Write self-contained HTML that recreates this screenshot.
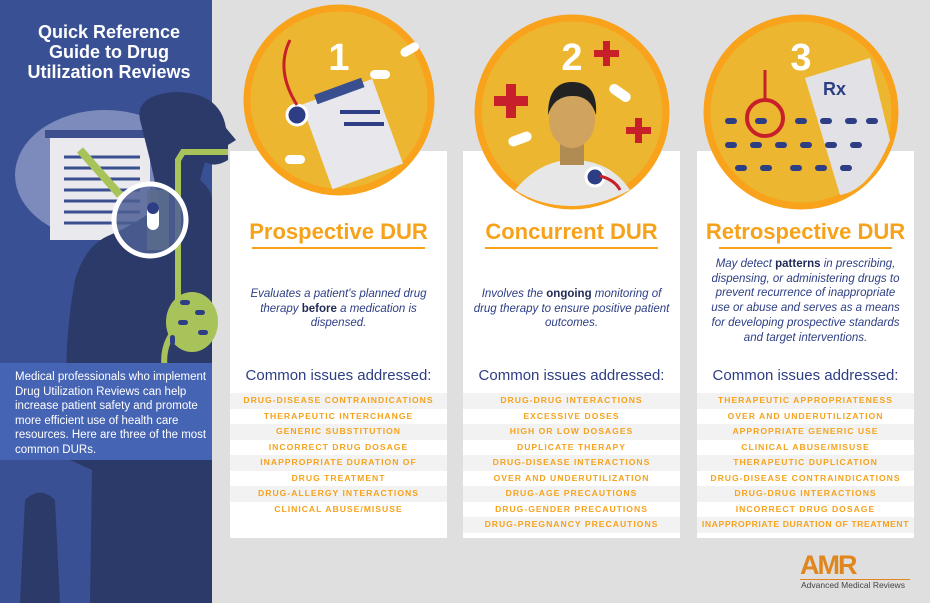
<!DOCTYPE html>
<html><head><meta charset="utf-8"><style>
*{margin:0;padding:0;box-sizing:border-box}
body{width:930px;height:603px;background:#dfdfdf;position:relative;overflow:hidden;font-family:"Liberation Sans",sans-serif}
.a{position:absolute}
.bg{position:absolute;top:151px;width:217px;height:387px;background:#fff}
.card{position:absolute;top:151px;width:217px;height:387px;z-index:3}
.ttl{position:absolute;top:68px;left:0;width:100%;text-align:center;color:#f6a21b;font-weight:bold;font-size:22px}
.ul{position:absolute;top:96px;left:22px;right:22px;height:2px;background:#f6a21b}
.desc{position:absolute;left:8px;right:8px;text-align:center;color:#2d3e84;font-style:italic;font-size:11.5px;line-height:14.7px}
.desc b{font-style:normal;color:#1f2a55}
.ci{position:absolute;top:216px;width:100%;text-align:center;color:#2d3e84;font-size:15px}
.list{position:absolute;top:242px;left:0;width:100%}
.list div{height:15.5px;line-height:15.5px;text-align:center;color:#f6a21b;font-size:8.6px;font-weight:bold;letter-spacing:1px;white-space:nowrap}
.list div:nth-child(odd){background:#f2f2f2}
</style></head><body>
<div class="bg" style="left:230px"></div>
<div class="bg" style="left:463px"></div>
<div class="bg" style="left:697px"></div>
<svg class="a" style="left:0;top:0;z-index:2" width="930" height="603">
<rect x="0" y="0" width="212" height="603" fill="#3a5094"/>
<ellipse cx="105" cy="175" rx="90" ry="65" fill="#7d8bbc"/>
<rect x="50" y="135" width="100" height="105" fill="#e9e9ee"/>
<rect x="45" y="130" width="110" height="8" fill="#3d4f8e"/>
<g stroke="#3a4f8f" stroke-width="3"><line x1="64" y1="157" x2="140" y2="157"/><line x1="64" y1="168" x2="140" y2="168"/><line x1="64" y1="179" x2="140" y2="179"/><line x1="64" y1="190" x2="140" y2="190"/><line x1="64" y1="201" x2="140" y2="201"/><line x1="64" y1="212" x2="140" y2="212"/><line x1="64" y1="223" x2="140" y2="223"/></g>
<path d="M140 120 Q135 95 175 92 Q220 92 226 128 L236 140 L228 145 L228 160 Q215 168 205 162 L200 180 Q212 190 212 200 L212 603 L90 603 L92 470 L70 460 Q60 360 75 280 Q85 245 110 235 Q140 222 160 205 L150 160 Z" fill="#2c3a6a"/>
<path d="M20 603 L25 500 Q40 485 55 500 L60 603 Z" fill="#2c3a6a"/>
<path d="M228 152 L183 152 L178 160 L178 300 Q175 310 185 320 Q160 340 165 370" stroke="#a9c35b" stroke-width="6" fill="none"/>
<ellipse cx="192" cy="322" rx="26" ry="30" fill="#a9c35b"/>
<g fill="#2d3e84"><rect x="180" y="300" width="10" height="5" rx="2.5"/><rect x="195" y="310" width="10" height="5" rx="2.5"/><rect x="178" y="320" width="10" height="5" rx="2.5"/><rect x="198" y="330" width="10" height="5" rx="2.5"/><rect x="170" y="335" width="5" height="10" rx="2.5"/></g>
<rect x="147" y="190" width="22" height="60" fill="#a9c35b" opacity=".8"/>
<line x1="80" y1="150" x2="120" y2="195" stroke="#a9c35b" stroke-width="8"/>
<circle cx="150" cy="220" r="36" fill="#4d5f94" fill-opacity=".85" stroke="#fff" stroke-width="5"/>
<rect x="147" y="202" width="12" height="28" rx="6" fill="#fff"/>
<rect x="147" y="202" width="12" height="12" rx="6" fill="#2d3e84"/>
<rect x="0" y="363" width="212" height="97" fill="#4664b4"/>
<circle cx="339" cy="100" r="92" fill="#edb630" stroke="#f9a21b" stroke-width="7"/>
<rect x="315" y="90" width="75" height="90" fill="#e7e7ec" transform="rotate(-20 350 135)"/>
<rect x="330" y="85" width="50" height="10" fill="#3a4f8f" transform="rotate(-20 350 135)"/>
<g fill="#2d3e84"><rect x="340" y="110" width="40" height="4"/><rect x="344" y="122" width="40" height="4"/></g>
<circle cx="297" cy="115" r="10" fill="#2d3e84" stroke="#fff" stroke-width="3"/>
<path d="M297 105 Q275 70 290 40" stroke="#c8202a" stroke-width="3" fill="none"/>
<g fill="#fff"><rect x="370" y="70" width="20" height="9" rx="4.5"/><rect x="400" y="45" width="20" height="9" rx="4.5" transform="rotate(-30 410 50)"/><rect x="285" y="155" width="20" height="9" rx="4.5"/></g>
<text x="339" y="70" font-size="38" font-weight="bold" fill="#fff" text-anchor="middle" font-family="Liberation Sans">1</text>
<circle cx="572" cy="112" r="94" fill="#edb630" stroke="#f9a21b" stroke-width="7"/>
<path d="M515 190 Q540 160 572 160 Q610 160 630 190 Q600 206 572 206 Q540 206 515 190Z" fill="#e7e7e7"/>
<rect x="560" y="140" width="24" height="25" fill="#b08b52"/>
<ellipse cx="572" cy="120" rx="23" ry="28" fill="#d0a35f"/>
<path d="M548 115 Q548 82 572 82 Q598 82 596 115 Q590 95 572 96 Q554 96 548 115Z" fill="#222"/>
<path d="M494 96h12v-12h10v12h12v10h-12v12h-10v-12h-12z" fill="#c8202a"/>
<path d="M594 50h9v-9h7v9h9v7h-9v9h-7v-9h-9z" fill="#c8202a"/>
<path d="M626 127h9v-9h7v9h9v7h-9v9h-7v-9h-9z" fill="#c8202a"/>
<g fill="#fff"><rect x="508" y="134" width="24" height="10" rx="5" transform="rotate(-20 520 139)"/><rect x="608" y="88" width="24" height="10" rx="5" transform="rotate(35 620 93)"/></g>
<circle cx="595" cy="177" r="9" fill="#2d3e84" stroke="#fff" stroke-width="3"/>
<path d="M600 176 Q615 180 620 190" stroke="#c8202a" stroke-width="3" fill="none"/>
<text x="572" y="70" font-size="38" font-weight="bold" fill="#fff" text-anchor="middle" font-family="Liberation Sans">2</text>
<circle cx="801" cy="112" r="94" fill="#edb630" stroke="#f9a21b" stroke-width="7"/>
<path d="M805 78 L870 58 L890 140 Q870 190 840 195 Z" fill="#e2e2e6"/>
<text x="823" y="95" font-size="18" font-weight="bold" fill="#2d3e84" font-family="Liberation Sans">Rx</text>
<g fill="#2d3e84"><rect x="725" y="118" width="12" height="6" rx="3"/><rect x="755" y="118" width="12" height="6" rx="3"/><rect x="795" y="118" width="12" height="6" rx="3"/><rect x="820" y="118" width="12" height="6" rx="3"/><rect x="845" y="118" width="12" height="6" rx="3"/><rect x="866" y="118" width="12" height="6" rx="3"/><rect x="725" y="142" width="12" height="6" rx="3"/><rect x="750" y="142" width="12" height="6" rx="3"/><rect x="775" y="142" width="12" height="6" rx="3"/><rect x="800" y="142" width="12" height="6" rx="3"/><rect x="825" y="142" width="12" height="6" rx="3"/><rect x="850" y="142" width="12" height="6" rx="3"/><rect x="735" y="165" width="12" height="6" rx="3"/><rect x="760" y="165" width="12" height="6" rx="3"/><rect x="790" y="165" width="12" height="6" rx="3"/><rect x="815" y="165" width="12" height="6" rx="3"/><rect x="840" y="165" width="12" height="6" rx="3"/></g>
<circle cx="765" cy="118" r="18" fill="none" stroke="#c8202a" stroke-width="4"/>
<line x1="765" y1="70" x2="765" y2="100" stroke="#c8202a" stroke-width="3"/>
<text x="801" y="70" font-size="38" font-weight="bold" fill="#fff" text-anchor="middle" font-family="Liberation Sans">3</text>
</svg>
<div class="a" style="left:14px;top:22px;width:190px;text-align:center;color:#fff;font-weight:bold;font-size:18px;line-height:20px;z-index:3">Quick Reference Guide to Drug Utilization Reviews</div>
<div class="a" style="left:15px;top:370px;width:195px;color:#fff;font-size:11.5px;line-height:14.5px;z-index:3">Medical professionals who implement Drug Utilization Reviews can help increase patient safety and promote more efficient use of health care resources. Here are three of the most common DURs.</div>

<div class="card" style="left:230px">
<div class="ttl">Prospective DUR</div><div class="ul"></div>
<div class="desc" style="top:136px">Evaluates a patient's planned drug therapy <b>before</b> a medication is dispensed.</div>
<div class="ci">Common issues addressed:</div>
<div class="list"><div>DRUG-DISEASE CONTRAINDICATIONS</div><div>THERAPEUTIC INTERCHANGE</div><div>GENERIC SUBSTITUTION</div><div>INCORRECT DRUG DOSAGE</div><div>INAPPROPRIATE DURATION OF</div><div>DRUG TREATMENT</div><div>DRUG-ALLERGY INTERACTIONS</div><div>CLINICAL ABUSE/MISUSE</div></div>
</div>
<div class="card" style="left:463px">
<div class="ttl">Concurrent DUR</div><div class="ul"></div>
<div class="desc" style="top:136px">Involves the <b>ongoing</b> monitoring of drug therapy to ensure positive patient outcomes.</div>
<div class="ci">Common issues addressed:</div>
<div class="list"><div>DRUG-DRUG INTERACTIONS</div><div>EXCESSIVE DOSES</div><div>HIGH OR LOW DOSAGES</div><div>DUPLICATE THERAPY</div><div>DRUG-DISEASE INTERACTIONS</div><div>OVER AND UNDERUTILIZATION</div><div>DRUG-AGE PRECAUTIONS</div><div>DRUG-GENDER PRECAUTIONS</div><div>DRUG-PREGNANCY PRECAUTIONS</div></div>
</div>
<div class="card" style="left:697px">
<div class="ttl">Retrospective DUR</div><div class="ul"></div>
<div class="desc" style="top:106px">May detect <b>patterns</b> in prescribing, dispensing, or administering drugs to prevent recurrence of inappropriate use or abuse and serves as a means for developing prospective standards and target interventions.</div>
<div class="ci">Common issues addressed:</div>
<div class="list"><div>THERAPEUTIC APPROPRIATENESS</div><div>OVER AND UNDERUTILIZATION</div><div>APPROPRIATE GENERIC USE</div><div>CLINICAL ABUSE/MISUSE</div><div>THERAPEUTIC DUPLICATION</div><div>DRUG-DISEASE CONTRAINDICATIONS</div><div>DRUG-DRUG INTERACTIONS</div><div>INCORRECT DRUG DOSAGE</div><div style="letter-spacing:.6px">INAPPROPRIATE DURATION OF TREATMENT</div></div>
</div>
<div class="a" style="left:800px;top:552px;font-size:27px;font-weight:bold;color:#e0861e;letter-spacing:-2px;line-height:27px">AMR</div>
<div class="a" style="left:800px;top:579px;width:110px;height:1px;background:#e0861e"></div>
<div class="a" style="left:801px;top:580px;font-size:8.5px;color:#444">Advanced Medical Reviews</div>
</body></html>
